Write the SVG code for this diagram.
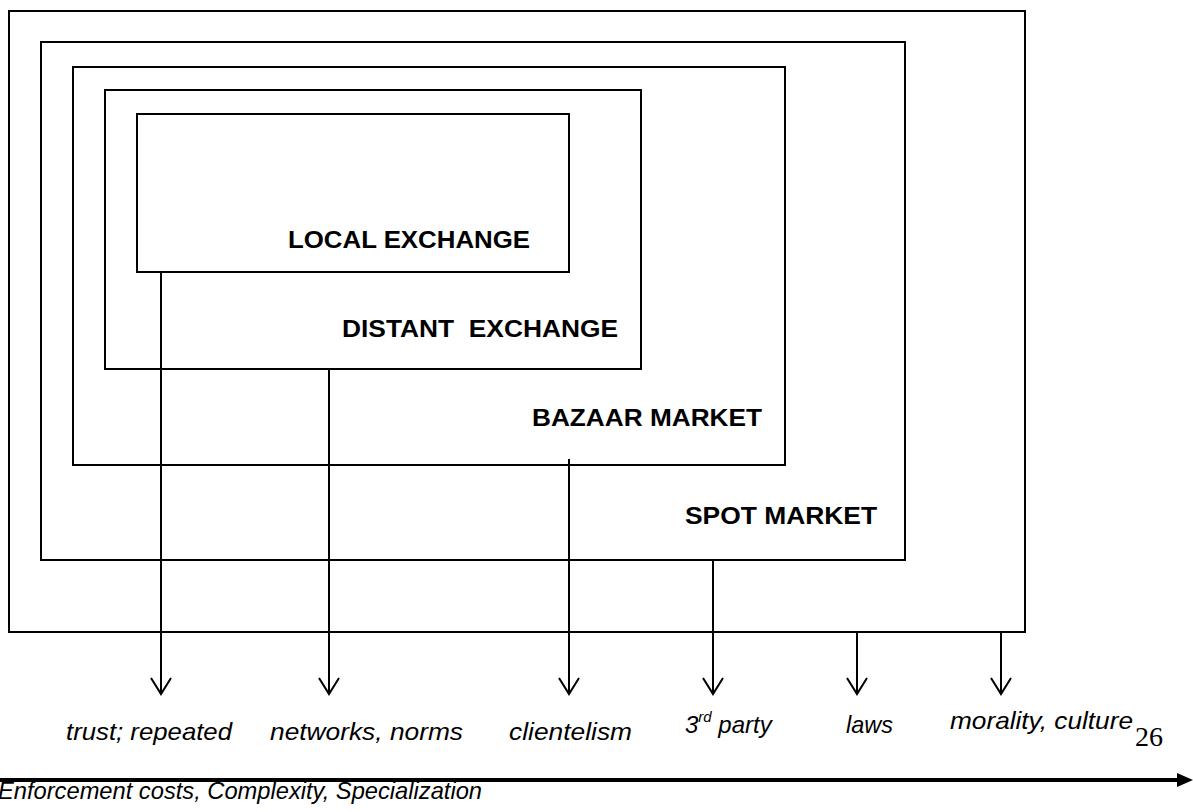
<svg xmlns="http://www.w3.org/2000/svg" width="1193" height="812" viewBox="0 0 1193 812">
<style>
.box{fill:none;stroke:#000;stroke-width:2}
.lbl{font-family:"Liberation Sans",Arial,sans-serif;font-weight:bold;font-size:24px;fill:#000}
.it{font-family:"Liberation Sans",Arial,sans-serif;font-style:italic;font-size:24px;fill:#000}
.conn{stroke:#000;stroke-width:2;fill:none}
</style>
<defs>
<marker id="vhead" markerUnits="userSpaceOnUse" markerWidth="20" markerHeight="24" refX="17" refY="11" orient="auto" viewBox="0 0 20 22">
<path d="M1,1 L17,11 L1,21" fill="none" stroke="#000" stroke-width="2"/>
</marker>
</defs>
<rect width="1193" height="812" fill="#fff"/>
<g id="spot-outer"><rect class="box" x="9" y="11" width="1016" height="621"/></g>
<g id="spot-market"><rect class="box" x="41" y="42" width="864" height="518"/>
<text class="lbl" x="685" y="524" textLength="192" lengthAdjust="spacingAndGlyphs">SPOT MARKET</text></g>
<g id="bazaar-market"><rect class="box" x="73" y="67" width="712" height="398"/>
<text class="lbl" x="532" y="426" textLength="230" lengthAdjust="spacingAndGlyphs">BAZAAR MARKET</text></g>
<g id="distant-exchange"><rect class="box" x="105" y="90" width="536" height="279"/>
<text class="lbl" x="342" y="337" textLength="276" lengthAdjust="spacingAndGlyphs" xml:space="preserve">DISTANT  EXCHANGE</text></g>
<g id="local-exchange"><rect class="box" x="137" y="114" width="432" height="158"/>
<text class="lbl" x="288" y="248" textLength="242" lengthAdjust="spacingAndGlyphs">LOCAL EXCHANGE</text></g>
<g id="connectors">
<line class="conn" x1="161" y1="272" x2="161" y2="694" marker-end="url(#vhead)"/>
<line class="conn" x1="329" y1="369" x2="329" y2="694" marker-end="url(#vhead)"/>
<line class="conn" x1="569" y1="459" x2="569" y2="694" marker-end="url(#vhead)"/>
<line class="conn" x1="713" y1="560" x2="713" y2="694" marker-end="url(#vhead)"/>
<line class="conn" x1="857" y1="632" x2="857" y2="694" marker-end="url(#vhead)"/>
<line class="conn" x1="1001" y1="632" x2="1001" y2="694" marker-end="url(#vhead)"/>
<line x1="0" y1="780" x2="1178" y2="780" stroke="#000" stroke-width="4"/>
<polygon points="1177,773 1193,780 1177,787" fill="#000"/>
</g>
<g id="labels">
<text class="it" x="66" y="740" textLength="166" lengthAdjust="spacingAndGlyphs">trust; repeated</text>
<text class="it" x="270" y="740" textLength="193" lengthAdjust="spacingAndGlyphs">networks, norms</text>
<text class="it" x="509" y="740" textLength="123" lengthAdjust="spacingAndGlyphs">clientelism</text>
<text class="it" x="685" y="733" font-size="25">3<tspan font-size="15" dy="-11">rd</tspan><tspan dy="11"> party</tspan></text>
<text class="it" x="846" y="733" textLength="47" lengthAdjust="spacingAndGlyphs">laws</text>
<text class="it" x="950" y="729" textLength="183" lengthAdjust="spacingAndGlyphs">morality, culture</text>
<text x="1135" y="746" font-family="'Liberation Serif','Times New Roman',serif" font-size="28">26</text>
<text class="it" x="-2" y="799" textLength="484" lengthAdjust="spacingAndGlyphs">Enforcement costs, Complexity, Specialization</text>
</g>
</svg>
